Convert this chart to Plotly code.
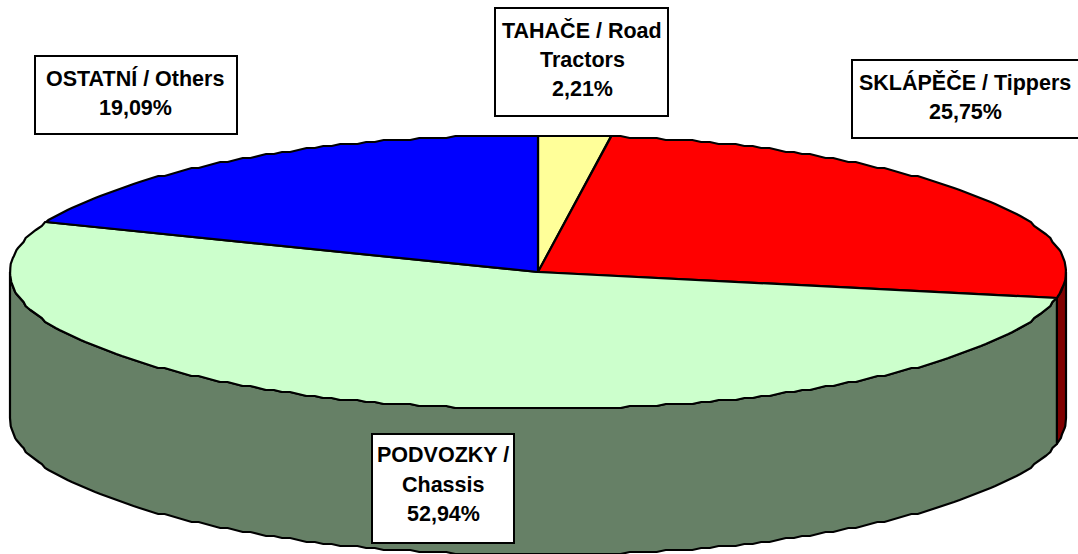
import numpy as np
import plotly.graph_objects as go

categories = ["TAHAČE / Road Tractors", "SKLÁPĚČE / Tippers", "PODVOZKY / Chassis", "OSTATNÍ / Others"]
values = [2.21, 25.75, 52.94, 19.09]
top_colors = ["#FFFF99", "#FF0000", "#CCFFCC", "#0000FF"]
wall_colors = ["#808050", "#800000", "#668066", "#000080"]
label_lines = [
    ["TAHAČE / Road", "Tractors", "2,21%"],
    ["SKLÁPĚČE / Tippers", "25,75%"],
    ["PODVOZKY /", "Chassis", "52,94%"],
    ["OSTATNÍ / Others", "19,09%"],
]
label_boxes = [(495, 8, 668, 116), (852, 60, 1090, 138), (372, 434, 514, 543), (35, 56, 237, 134)]
label_first_y = [30, 82, 455, 78]
label_cx = [582, 965, 443, 135]
label_step = 29.5

W, H = 1078, 554
CX, CY, RX, RY, DEPTH = 538, 272, 528, 137, 146
OUT = "#000000"


def point(deg, drop=0.0):
    # the reference outline is a slightly stepped ellipse
    a = np.radians(deg)
    x = CX + RX * np.sin(a)
    y = np.round((CY - RY * np.cos(a)) / 2) * 2 + drop
    return x, y


def arc(d0, d1, drop=0.0):
    # shared whole-degree grid so that wall and top-face outlines coincide
    lo, hi = min(d0, d1), max(d0, d1)
    grid = np.arange(np.ceil(lo), np.floor(hi) + 1)
    deg = np.unique(np.r_[lo, grid, hi])
    if d0 > d1:
        deg = deg[::-1]
    return point(deg, drop)


total = sum(values)
edges = np.concatenate([[0], np.cumsum(values) / total * 360])

fig = go.Figure()

# side walls: only the front half (90° to 270°) is visible
for i in range(len(values)):
    d0, d1 = max(edges[i], 90), min(edges[i + 1], 270)
    if d1 <= d0:
        continue
    xt, yt = arc(d0, d1)
    xb, yb = arc(d1, d0, DEPTH)
    fig.add_trace(go.Scatter(
        x=np.r_[xt, xb, xt[0]], y=np.r_[yt, yb, yt[0]], mode="lines", fill="toself",
        fillcolor=wall_colors[i], line=dict(color=OUT, width=2.2), hoverinfo="skip", showlegend=False,
    ))

# top faces
for i, name in enumerate(categories):
    xt, yt = arc(edges[i], edges[i + 1])
    fig.add_trace(go.Scatter(
        x=np.r_[CX, xt, CX], y=np.r_[CY, yt, CY], mode="lines", fill="toself",
        fillcolor=top_colors[i], line=dict(color=OUT, width=2.2), name=name,
        hoverinfo="name", showlegend=False,
    ))

# label boxes
for (x0, y0, x1, y1) in label_boxes:
    fig.add_shape(type="rect", x0=x0, y0=y0, x1=x1, y1=y1, fillcolor="#FFFFFF",
                  line=dict(color="#000000", width=2), layer="above")

for lines, y0, cx in zip(label_lines, label_first_y, label_cx):
    for k, txt in enumerate(lines):
        fig.add_annotation(x=cx, y=y0 + k * label_step, text=f"<b>{txt}</b>", showarrow=False,
                           xanchor="center", yanchor="middle",
                           font=dict(family="Liberation Sans", size=21.5, color="#000000"))

fig.update_layout(
    width=W, height=H, margin=dict(l=0, r=0, t=0, b=0),
    paper_bgcolor="#FFFFFF", plot_bgcolor="#FFFFFF",
    xaxis=dict(range=[0, W], visible=False, fixedrange=True),
    yaxis=dict(range=[H, 0], visible=False, fixedrange=True),
)
fig.write_html("out.html", config={"displayModeBar": False},
               post_script="document.body.style.margin='0';document.body.style.overflow='hidden';")
